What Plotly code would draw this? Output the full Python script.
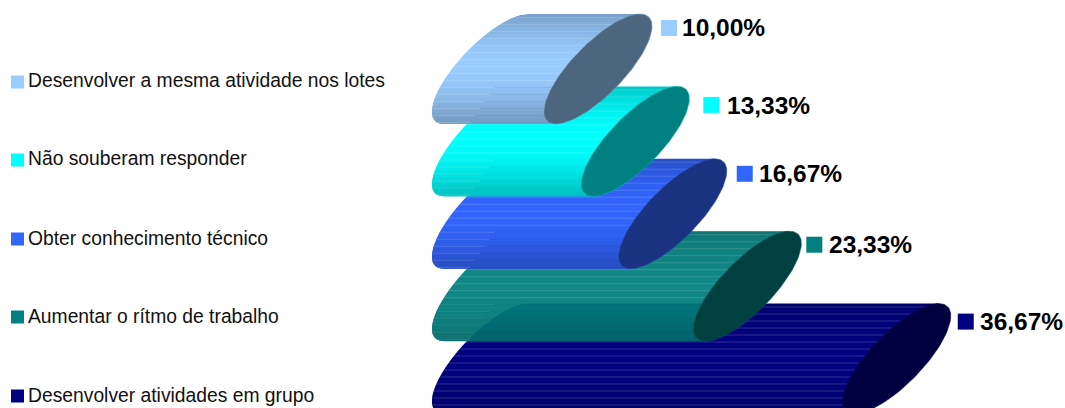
import numpy as np
import plotly.graph_objects as go

# Survey answers, listed from the top cylinder to the bottom one
categories = [
    "Desenvolver a mesma atividade nos lotes",
    "Não souberam responder",
    "Obter conhecimento técnico",
    "Aumentar o rítmo de trabalho",
    "Desenvolver atividades em grupo",
]
percentages = [10.00, 13.33, 16.67, 23.33, 36.67]
value_labels = ["10,00%", "13,33%", "16,67%", "23,33%", "36,67%"]
body_colors = [(153, 204, 255), (0, 255, 255), (51, 102, 255), (0, 128, 128), (0, 0, 128)]

# Canvas and scale set-up
WIDTH, HEIGHT = 1065, 408
PX_PER_PCT = 11.2
PX_PER_CAT = 72.4
ZERO_PX, FIRST_ROW_PX = 486.0, 69.0

# Cylinder cross-section: a sheared ellipse, in axis units
CAP_H = 55.0 / PX_PER_CAT
CAP_A = 34.0 / PX_PER_PCT
CAP_B = 42.0 / PX_PER_PCT
CAP_HALF = np.hypot(CAP_A, CAP_B)

# Label placement relative to each cap (pixels)
swatch_gaps = [9, 14, 10, 5, 7]
swatch_rises = [41, 36.5, 40, 41.5, 37]
text_gaps = [18.5, 21.5, 20.5, 20.5, 20.5]
text_rises = [42, 36, 40, 41.5, 37]
legend_rows = [82, 160, 239, 317, 396]


def shade(rgb, k):
    return "rgb(%d,%d,%d)" % tuple(int(round(min(255, c * k))) for c in rgb)


def lighten(rgb, k, amount):
    base = [c * k for c in rgb]
    return "rgb(%d,%d,%d)" % tuple(int(round(b + (255 - b) * amount)) for b in base)


def edges(s, x_end):
    """Left rim of the near cap and centre line of the far cap at height s in [-1, 1]."""
    root = np.sqrt(np.clip(1 - s * s, 0, 1))
    return -CAP_B * s - CAP_A * root, x_end - CAP_B * s


def add_band(fig, i, s0, s1, x_end, color, x_limit=None):
    l0, r0 = edges(s0, x_end)
    l1, r1 = edges(s1, x_end)
    if x_limit is not None:
        r0, r1 = min(r0, x_limit), min(r1, x_limit)
    fig.add_trace(go.Scatter(
        x=[l0, r0, r1, l1, l0],
        y=[i + s0 * CAP_H, i + s0 * CAP_H, i + s1 * CAP_H, i + s1 * CAP_H, i + s0 * CAP_H],
        mode="lines", fill="toself", fillcolor=color, line=dict(width=0),
        hoverinfo="skip", showlegend=False,
    ))


fig = go.Figure()
theta = np.linspace(0, 2 * np.pi, 121)

# Lower cylinders go first so the upper ones overlap them
for i in reversed(range(len(percentages))):
    value, rgb = percentages[i], body_colors[i]
    rows = int(2 * CAP_H * PX_PER_CAT)
    dark_edge = 0.78 if i < 3 else 0.84
    grid = np.linspace(-1, 1, rows + 1)
    for r in range(rows):
        s0, s1 = grid[r], min(1.0, grid[r + 1] + 0.012)
        mid = (s0 + s1) / 2
        k = 1 - (1 - dark_edge) * min(1, abs(mid + 0.05) / 0.95) ** 1.8
        stripe = r % 7 == 3
        lift = 0.14 if i < 4 else 0.18
        if stripe and mid > 0.3 and i < 4:
            # Toward the underside the highlight fades out before reaching the far end
            add_band(fig, i, s0, s1, value, shade(rgb, k * 0.95))
            reach = -1.5 + 3.4 * (1 - mid)
            add_band(fig, i, s0, s1, value, lighten(rgb, k, lift), x_limit=reach)
        else:
            add_band(fig, i, s0, s1, value, lighten(rgb, k, lift) if stripe else shade(rgb, k))
    # End cap, half the brightness of the body
    fig.add_trace(go.Scatter(
        x=value + CAP_A * np.cos(theta) + CAP_B * np.sin(theta),
        y=i - CAP_H * np.sin(theta),
        mode="lines", fill="toself", fillcolor=shade(rgb, 0.5),
        line=dict(width=0.6, color=shade(rgb, 0.72)),
        hoverinfo="skip", showlegend=False,
    ))

annotations = []
# Value labels with their colour swatches
for i, (value, text) in enumerate(zip(percentages, value_labels)):
    sx = value + CAP_HALF + swatch_gaps[i] / PX_PER_PCT
    fig.add_trace(go.Scatter(
        x=[sx + 8 / PX_PER_PCT], y=[i - swatch_rises[i] / PX_PER_CAT], mode="markers",
        marker=dict(symbol="square", size=16, color=shade(body_colors[i], 1), line=dict(width=0)),
        hoverinfo="skip", showlegend=False,
    ))
    annotations.append(dict(
        x=sx + text_gaps[i] / PX_PER_PCT, y=i - text_rises[i] / PX_PER_CAT,
        xref="x", yref="y", text=f"<b>{text}</b>",
        xanchor="left", yanchor="middle", showarrow=False,
        font=dict(family="Liberation Sans", size=24.5, color="#000"),
    ))

# Hand-placed key on the left
shapes = []
for name, rgb, row in zip(categories, body_colors, legend_rows):
    shapes.append(dict(
        type="rect", xref="paper", yref="paper", layer="above",
        x0=11 / WIDTH, x1=24 / WIDTH,
        y0=1 - (row + 6.5) / HEIGHT, y1=1 - (row - 6.5) / HEIGHT,
        fillcolor=shade(rgb, 1), line=dict(width=0),
    ))
    annotations.append(dict(
        x=26 / WIDTH, y=1 - (row - 1) / HEIGHT, xref="paper", yref="paper", text=name,
        xanchor="left", yanchor="middle", showarrow=False,
        font=dict(family="Liberation Sans", size=19.3, color="#111"),
    ))

fig.update_layout(
    width=WIDTH, height=HEIGHT, margin=dict(l=0, r=0, t=0, b=0),
    paper_bgcolor="white", plot_bgcolor="white", showlegend=False,
    xaxis=dict(range=[-ZERO_PX / PX_PER_PCT, (WIDTH - ZERO_PX) / PX_PER_PCT], visible=False),
    yaxis=dict(range=[(HEIGHT - FIRST_ROW_PX) / PX_PER_CAT, -FIRST_ROW_PX / PX_PER_CAT], visible=False),
    annotations=annotations, shapes=shapes,
)
fig.write_html("out.html")
